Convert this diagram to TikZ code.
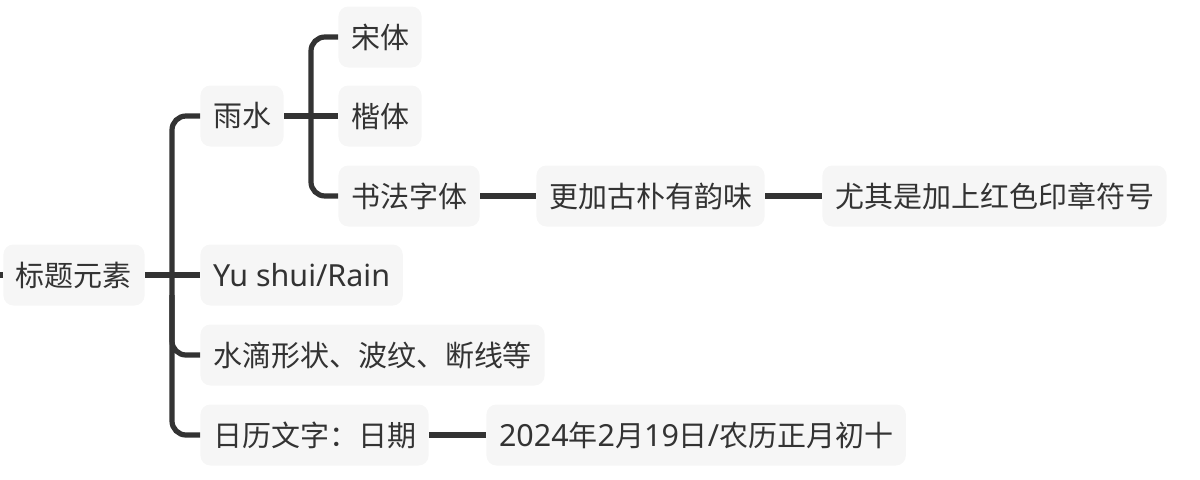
\documentclass[tikz,border=0pt]{standalone}
\usepackage{fontspec}
\setmainfont{Noto Sans CJK SC}
\newfontfamily\latin{Noto Sans}[Scale=1.05]
\definecolor{ink}{HTML}{333333}
\definecolor{pad}{HTML}{F6F6F6}
\begin{document}
\begin{tikzpicture}[x=0.5pt,y=-0.5pt,
	every node/.style={anchor=west,fill=pad,rounded corners=5pt,text=ink,
	minimum height=30.5pt,inner xsep=6.3pt,font=\fontsize{14.5}{16}\selectfont},
	link/.style={draw=ink,line width=2.6pt,rounded corners=7pt}]
\useasboundingbox (0,0) rectangle (1200,479);
\node (root) at (3,275) {标题元素};
\node (yushui) at (200,116) {雨水};
\node (song) at (338,37) {宋体};
\node (kai) at (338,116) {楷体};
\node (shufa) at (338,196) {书法字体};
\node (gupu) at (536,196) {更加古朴有韵味};
\node (seal) at (822,196) {尤其是加上红色印章符号};
\node (rain) at (200,275) {\latin Yu shui/Rain};
\node (drops) at (200,355) {水滴形状、波纹、断线等};
\node (cal) at (200,435) {日历文字：日期};
\node (date) at (486,435) {{\latin 2024}年{\latin 2}月{\latin 19}日{\latin /}农历正月初十};
% trunk of the root
\draw[link] (yushui.west) -- ++(-28,0) |- (cal.west);
\draw[link] (root.east) -- (rain.west);
\draw[link] (drops.west) -- ++(-28,0) -- ++(0,-60);
\draw[link] (root.west) -- ++(-6,0);
% trunk of 雨水
\draw[link] (song.west) -- ++(-27,0) |- (shufa.west);
\draw[link] (yushui.east) -- (kai.west);
% chains
\draw[link] (shufa.east) -- (gupu.west);
\draw[link] (gupu.east) -- (seal.west);
\draw[link] (cal.east) -- (date.west);
\end{tikzpicture}
\end{document}
